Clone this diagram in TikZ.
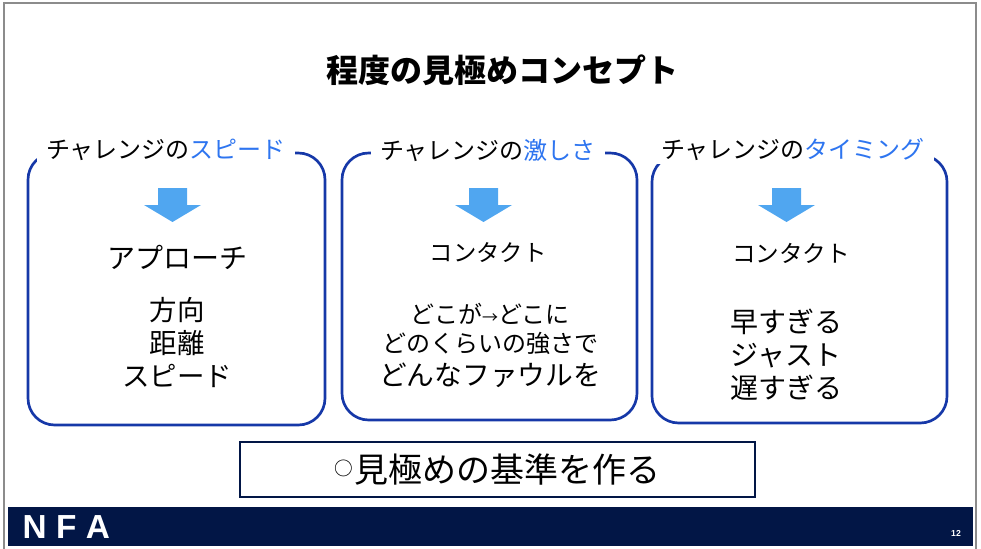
\documentclass[tikz,border=0pt]{standalone}
\usepackage{fontspec}
\setmainfont{Noto Sans CJK JP}
\newfontfamily\latinfont{Liberation Sans}
\usepackage{tikz}
\usetikzlibrary{positioning}

\definecolor{panelblue}{RGB}{22,56,168}
\definecolor{keyblue}{RGB}{46,117,240}
\definecolor{pointerblue}{RGB}{80,166,240}
\definecolor{barnavy}{RGB}{2,22,70}
\definecolor{framegray}{RGB}{140,140,140}

\tikzset{
	panel/.style={draw=panelblue,line width=2pt,rounded corners=20pt,minimum width=221.25pt,minimum height=201pt,inner sep=0pt},
	head/.style={fill=white,inner xsep=7pt,inner ysep=2pt,font=\fontsize{18}{20}\selectfont},
	pointer/.style={fill=pointerblue},
	item/.style={align=center,inner sep=0pt}
}

\begin{document}
\begin{tikzpicture}[x=0.75pt,y=-0.75pt]
			
			\useasboundingbox (0,0) rectangle (981,549);
			\draw[framegray,line width=1.5pt] (4,549) -- (4,3) -- (976,3) -- (976,549);
			
			\node (T) at (502,70) {\fontsize{24}{28}\selectfont\bfseries 程度の見極めコンセプト};
			
			\node[panel,minimum width=222.75pt,minimum height=204pt] (P1) at (176.5,289) {};
			\node[head,anchor=center] (H1) at (166,150) {チャレンジの\textcolor{keyblue}{スピード}};
			\fill[pointer] (158,188) -- (187,188) -- (187,205) -- (201,205) -- (172.5,222) -- (144,205) -- (158,205) -- cycle;
			\node[item,font=\fontsize{21}{24}\selectfont] (A1) at (177,257) {アプローチ};
			\node[item,font=\fontsize{20.6}{24.75}\selectfont] (L1) at (177,343) {方向\\距離\\スピード};
			
			\node[panel,minimum height=200.25pt] (P2) at (489.5,286.5) {};
			\node[head] (H2) at (488,150) {チャレンジの\textcolor{keyblue}{激しさ}};
			\fill[pointer] (469,188) -- (498,188) -- (498,205) -- (512,205) -- (483.5,222) -- (455,205) -- (469,205) -- cycle;
			\node[item,font=\fontsize{17.5}{20}\selectfont] (A2) at (488,253) {コンタクト};
			\node[item,font=\fontsize{18}{21.75}\selectfont] (L2) at (490,345) {どこが{\fontsize{12}{12}\selectfont →}どこに\\どのくらいの強さで\\[3pt]{\fontsize{20.8}{24}\selectfont どんなファウルを}};
			
			\node[panel] (P3) at (799.5,289) {};
			\node[head] (H3) at (793,150) {チャレンジの\textcolor{keyblue}{タイミング}};
			\fill[pointer] (772,188) -- (801,188) -- (801,205) -- (815,205) -- (786.5,222) -- (758,205) -- (772,205) -- cycle;
			\node[item,font=\fontsize{17.7}{20}\selectfont] (A3) at (791,253) {コンタクト};
			\node[item,font=\fontsize{21}{24.75}\selectfont] (L3) at (786,355) {早すぎる\\ジャスト\\遅すぎる};
			
			\node[draw=barnavy,line width=1.5pt,minimum width=386.25pt,minimum height=41.25pt,font=\fontsize{25.5}{28}\selectfont] (K) at (497.5,469.5) {\raisebox{5pt}{\fontsize{14}{14}\selectfont ○}\hspace{1pt}見極めの基準を作る};
			
			\fill[barnavy] (8,507) rectangle (973,546);
			\node[white,anchor=west,font=\latinfont\bfseries\fontsize{25}{27}\selectfont] (NFA) at (18,527) {N\hspace{7pt}F\hspace{7pt}A};
			\node[white,font=\latinfont\bfseries\fontsize{6.5}{7}\selectfont] (PG) at (956,533) {12};
			
		\end{tikzpicture}
\end{document}
